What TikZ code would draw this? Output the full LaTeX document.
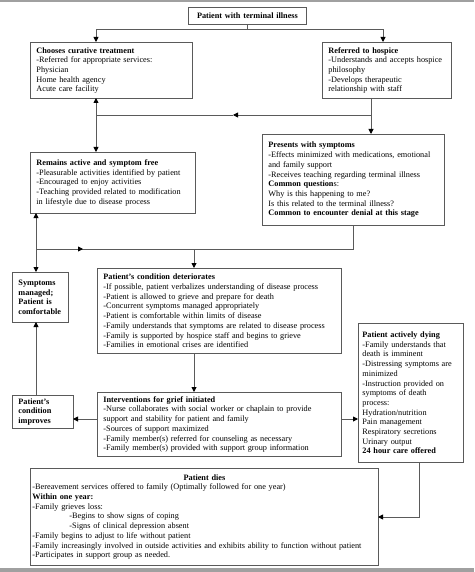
\documentclass[tikz,border=0pt]{standalone}
\usepackage{fontspec}
\setmainfont{Liberation Serif}
\usetikzlibrary{arrows.meta}
\definecolor{linec}{HTML}{5A5A5A}
\definecolor{bandc}{HTML}{A0A0A0}
\begin{document}
\begin{tikzpicture}[x=1pt,y=-1pt,
  box/.style={draw=linec, line width=0.9pt, anchor=north west, inner xsep=6pt, inner ysep=1pt, align=left, font=\fontsize{8.25}{9.7}\selectfont},
  conn/.style={draw=linec, line width=0.9pt},
  arr/.style={conn, -{Triangle[length=5pt,width=5pt,black]}}]
\useasboundingbox (0,0) rectangle (474,572);
\fill[bandc] (0,0) rectangle (474,2.3);
\fill[bandc] (0,568) rectangle (474,572);

\node[box, align=center, text width=106pt, minimum height=17pt] (top) at (188,7) {\textbf{Patient with terminal illness}};

\node[box, text width=150pt, minimum height=56pt] (cur) at (30,42) {\textbf{Chooses curative treatment}\\-Referred for appropriate services:\\Physician\\Home health agency\\Acute care facility};

\node[box, text width=117pt, minimum height=56pt] (hos) at (322,42) {\textbf{Referred to hospice}\\-Understands and accepts hospice\\philosophy\\-Develops therapeutic\\relationship with staff};

\node[box, text width=153pt, minimum height=61pt] (rem) at (30,152) {\textbf{Remains active and symptom free}\\-Pleasurable activities identified by patient\\-Encouraged to enjoy activities\\-Teaching provided related to modification\\in lifestyle due to disease process};

\node[box, text width=170pt, minimum height=91pt] (pre) at (262,134) {\textbf{Presents with symptoms}\\-Effects minimized with medications, emotional\\and family support\\-Receives teaching regarding terminal illness\\\textbf{Common question}s:\\Why is this happening to me?\\Is this related to the terminal illness?\\\textbf{Common to encounter denial at this stage}};

\node[box, text width=44pt, minimum height=50pt] (sym) at (12,272) {\textbf{Symptoms}\\\textbf{managed;}\\\textbf{Patient is}\\\textbf{comfortable}};

\node[box, text width=232pt, minimum height=85pt] (det) at (97,268) {\textbf{Patient’s condition deteriorates}\\-If possible, patient verbalizes understanding of disease process\\-Patient is allowed to grieve and prepare for death\\-Concurrent symptoms managed appropriately\\-Patient is comfortable within limits of disease\\-Family understands that symptoms are related to disease process\\-Family is supported by hospice staff and begins to grieve\\-Families in emotional crises are identified};

\node[box, text width=232pt, minimum height=64pt] (int) at (97,392) {\textbf{Interventions for grief initiated}\\-Nurse collaborates with social worker or chaplain to provide\\support and stability for patient and family\\-Sources of support maximized\\-Family member(s) referred for counseling as necessary\\-Family member(s) provided with support group information};

\node[box, text width=49pt, minimum height=33pt] (imp) at (12,395) {\textbf{Patient’s}\\\textbf{condition}\\\textbf{improves}};

\node[box, inner xsep=4pt, text width=97pt, minimum height=139pt] (dying) at (358,323) {\textbf{Patient actively dying}\\-Family understands that\\death is imminent\\-Distressing symptoms are\\minimized\\-Instruction provided on\\symptoms of death\\process:\\Hydration/nutrition\\Pain management\\Respiratory secretions\\Urinary output\\\textbf{24 hour care offered}};

\node[box, inner xsep=2pt, text width=344pt, minimum height=97pt] (dies) at (30,468) {\makebox[344pt][c]{\textbf{Patient dies}}\\-Bereavement services offered to family (Optimally followed for one year)\\\textbf{Within one year:}\\-Family grieves loss:\\\hspace*{37pt}-Begins to show signs of coping\\\hspace*{37pt}-Signs of clinical depression absent\\-Family begins to adjust to life without patient\\-Family increasingly involved in outside activities and exhibits ability to function without patient\\-Participates in support group as needed.};

% connector points
\coordinate (t0) at (top.south |- 0,29);
\coordinate (curin) at (96,42);
\coordinate (hosin) at (383,42);
\coordinate (hosout) at (371,98);
\coordinate (j2) at (371,115);
\coordinate (prein) at (371,134);
\coordinate (m1) at (233,115);
\coordinate (j2l) at (96,115);
\coordinate (curbot) at (96,98);
\coordinate (remtop) at (96,152);
\coordinate (preout) at (353,225);
\coordinate (j3l) at (36,249);
\coordinate (m2) at (83,249);
\coordinate (j3b) at (194,249);
\coordinate (detin) at (194,268);
\coordinate (rembot) at (36,213);
\coordinate (symtop) at (36,272);
\coordinate (detout) at (194,353);
\coordinate (intin) at (194,392);
\coordinate (intw) at (97,419);
\coordinate (impe) at (73,419);
\coordinate (imptop) at (36,395);
\coordinate (symbot) at (36,322);
\coordinate (inte) at (341,419);
\coordinate (dyw) at (358,419);
\coordinate (dyb) at (419,462);
\coordinate (diese) at (378,517);

\draw[conn] (top.south) -- (t0);
\draw[arr] (t0) -| (curin);
\draw[arr] (t0) -| (hosin);
\draw[arr] (hosout) -- (prein);
\draw[arr] (j2) -- (m1);
\draw[conn] (m1) -- (j2l);
\draw[arr] (j2l) -- (curbot);
\draw[arr] (j2l) -- (remtop);
\draw[conn] (preout) |- (j3l);
\draw[arr] (j3l) -- (m2);
\draw[arr] (j3b) -- (detin);
\draw[arr] (j3l) -- (rembot);
\draw[arr] (j3l) -- (symtop);
\draw[arr] (detout) -- (intin);
\draw[arr] (intw) -- (impe);
\draw[arr] (imptop) -- (symbot);
\draw[arr] (inte) -- (dyw);
\draw[arr] (dyb) |- (diese);
\end{tikzpicture}
\end{document}
